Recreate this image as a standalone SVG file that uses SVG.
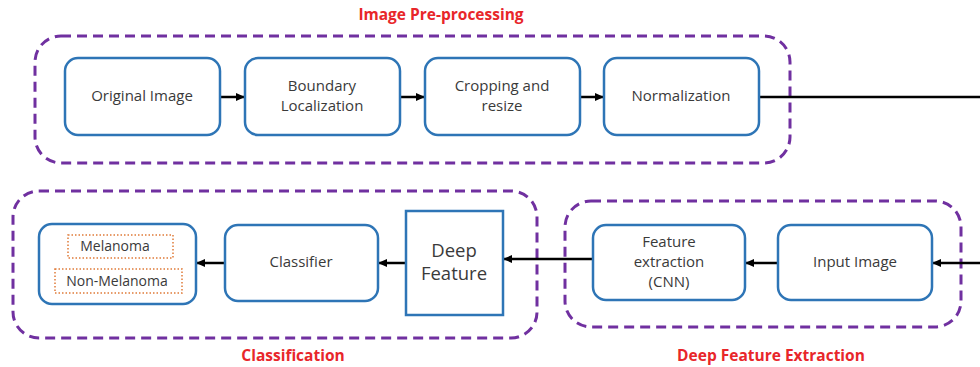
<svg xmlns="http://www.w3.org/2000/svg" width="980" height="367" viewBox="0 0 980 367">
<defs>
<marker id="ah" markerWidth="10" markerHeight="10" refX="9" refY="5" orient="auto" markerUnits="userSpaceOnUse">
<path d="M0,1 L9,5 L0,9 Z" fill="#000"/>
</marker>
<style>
.grp{fill:none;stroke:#7030a0;stroke-width:3;stroke-dasharray:10 6}
.box{fill:#fff;stroke:#2e75b6;stroke-width:2.5}
.dot{fill:#fff;stroke:#e07b39;stroke-width:1.5;stroke-dasharray:1.5 2}
.t{font-family:"Open Sans","Liberation Sans",sans-serif;font-size:15px;fill:#3a3a3a;text-anchor:middle;dominant-baseline:middle}
.s{font-size:14px}
.big{font-size:18.5px}
.lbl{font-family:"Open Sans","Liberation Sans",sans-serif;font-size:15.5px;font-weight:bold;fill:#e8262a;text-anchor:middle;dominant-baseline:middle}
.c{stroke:#000;stroke-width:2.5;fill:none}
</style>
</defs>
<rect width="980" height="367" fill="#fff"/>

<g id="group-preprocessing">
<rect class="grp" x="35" y="36" width="755" height="127" rx="26"/>
<text class="lbl" x="441" y="16">Image Pre-processing</text>
</g>
<g id="group-classification">
<rect class="grp" x="13" y="191" width="524" height="147" rx="26"/>
<text class="lbl" x="293" y="357">Classification</text>
</g>
<g id="group-extraction">
<rect class="grp" x="565" y="201" width="396" height="126" rx="26"/>
<text class="lbl" x="771" y="357">Deep Feature Extraction</text>
</g>

<g id="connectors">
<line class="c" x1="220" y1="97" x2="245" y2="97" marker-end="url(#ah)"/>
<line class="c" x1="400" y1="97" x2="425" y2="97" marker-end="url(#ah)"/>
<line class="c" x1="580" y1="97" x2="604" y2="97" marker-end="url(#ah)"/>
<line class="c" x1="759" y1="97" x2="980" y2="97"/>
<line class="c" x1="980" y1="263" x2="932" y2="263" marker-end="url(#ah)"/>
<line class="c" x1="778" y1="263" x2="745" y2="263" marker-end="url(#ah)"/>
<line class="c" x1="593" y1="259" x2="503" y2="259" marker-end="url(#ah)"/>
<line class="c" x1="406" y1="263" x2="378" y2="263" marker-end="url(#ah)"/>
<line class="c" x1="225" y1="263" x2="196" y2="263" marker-end="url(#ah)"/>
</g>

<g id="original-image">
<rect class="box" x="65" y="58" width="155" height="77" rx="13"/>
<text class="t" x="142" y="97">Original Image</text>
</g>
<g id="boundary-localization">
<rect class="box" x="245" y="58" width="155" height="77" rx="13"/>
<text class="t" x="322" y="87">Boundary</text>
<text class="t" x="322" y="107">Localization</text>
</g>
<g id="cropping-resize">
<rect class="box" x="425" y="58" width="155" height="77" rx="13"/>
<text class="t" x="502" y="87">Cropping and</text>
<text class="t" x="502" y="107">resize</text>
</g>
<g id="normalization">
<rect class="box" x="604" y="58" width="155" height="77" rx="13"/>
<text class="t" x="681" y="97">Normalization</text>
</g>

<g id="input-image">
<rect class="box" x="778" y="225" width="154" height="75" rx="13"/>
<text class="t" x="855" y="263">Input Image</text>
</g>
<g id="feature-extraction">
<rect class="box" x="593" y="225" width="152" height="75" rx="13"/>
<text class="t" x="669" y="243">Feature</text>
<text class="t" x="669" y="263">extraction</text>
<text class="t" x="669" y="283">(CNN)</text>
</g>
<g id="deep-feature">
<rect class="box" x="406" y="211" width="97" height="104"/>
<text class="t big" x="454" y="252">Deep</text>
<text class="t big" x="454" y="275">Feature</text>
</g>
<g id="classifier">
<rect class="box" x="225" y="225" width="153" height="76" rx="13"/>
<text class="t" x="301" y="263">Classifier</text>
</g>
<g id="output">
<rect class="box" x="39" y="224" width="157" height="80" rx="13"/>
<rect class="dot" x="68" y="235" width="105" height="23"/>
<text class="t s" x="115" y="247">Melanoma</text>
<rect class="dot" x="55" y="269" width="127" height="24"/>
<text class="t s" x="117" y="282">Non-Melanoma</text>
</g>
</svg>
